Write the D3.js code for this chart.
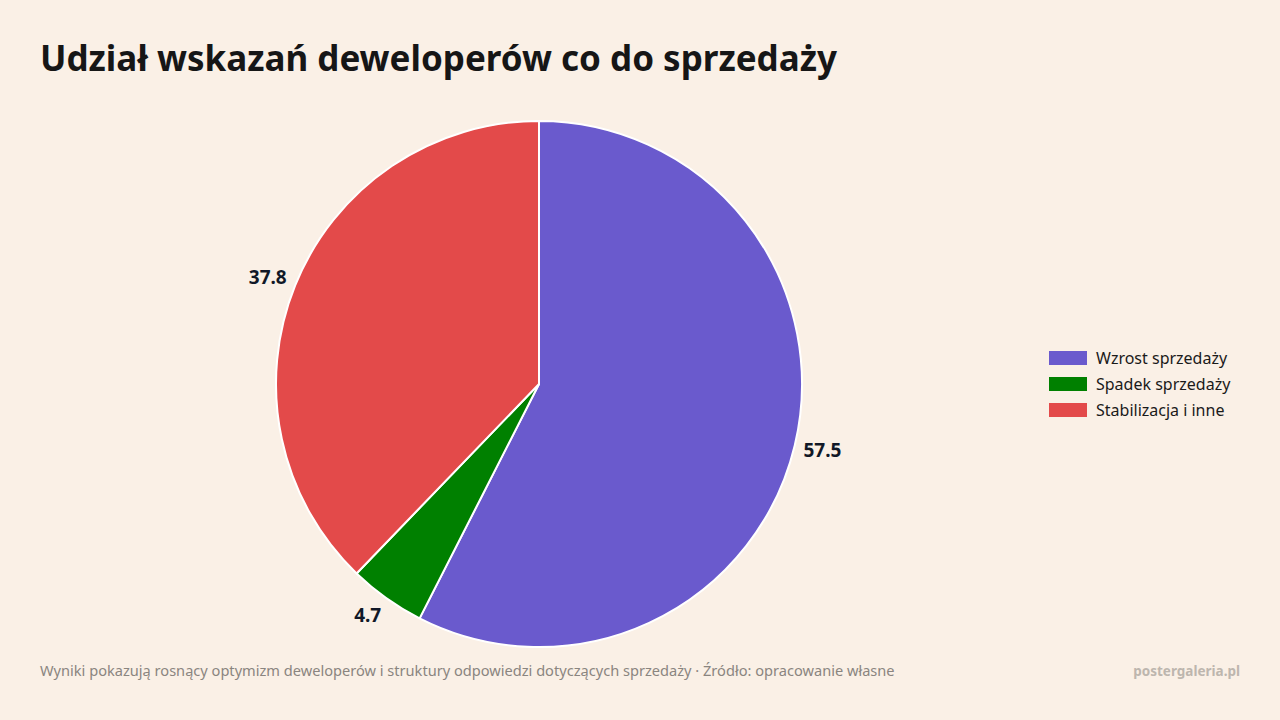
<!DOCTYPE html>
<html>
<head>
<meta charset="utf-8">
<script src="https://cdn.jsdelivr.net/npm/d3@7"></script>
<style>
  body { margin: 0; background: #faf0e6; }
  svg { display: block; font-family: "Noto Sans", "Open Sans", sans-serif; }
</style>
</head>
<body>
<svg id="chart" width="1280" height="720"></svg>
<script>
// data
const categories = ['Wzrost sprzedaży', 'Spadek sprzedaży', 'Stabilizacja i inne'];
const shares = [57.5, 4.7, 37.8];
const colors = ['#6a5acd', '#008000', '#e34a4a'];

const width = 1280,
  height = 720,
  cx = 539,
  cy = 384,
  radius = 263;

const svg = d3.select('#chart');

svg.append('rect')
  .attr('width', width)
  .attr('height', height)
  .attr('fill', '#faf0e6');

// title
svg.append('text')
  .attr('x', 40)
  .attr('y', 71)
  .attr('font-size', 35)
  .attr('font-weight', 700)
  .attr('fill', '#161616')
  .text('Udział wskazań deweloperów co do sprzedaży');

const data = categories.map((name, i) => ({ name, value: shares[i], color: colors[i] }));

const pie = d3.pie()
  .value(d => d.value)
  .sort(null);

const arc = d3.arc().innerRadius(0).outerRadius(radius);
const labelR = radius + 9;

const g = svg.append('g').attr('transform', `translate(${cx},${cy})`);

const arcs = pie(data);

g.selectAll('path')
  .data(arcs)
  .enter()
  .append('path')
  .attr('d', arc)
  .attr('fill', d => d.data.color)
  .attr('stroke', '#ffffff')
  .attr('stroke-width', 2)
  .attr('stroke-linejoin', 'round');

// value labels outside the slices, box pushed away from the rim
g.selectAll('text.val')
  .data(arcs)
  .enter()
  .append('text')
  .attr('class', 'val')
  .attr('transform', d => {
    const mid = (d.startAngle + d.endAngle) / 2;
    const x = Math.sin(mid) * labelR;
    const y = -Math.cos(mid) * labelR - Math.cos(mid) * 12;
    return `translate(${x},${y})`;
  })
  .attr('text-anchor', d => {
    const mid = (d.startAngle + d.endAngle) / 2;
    return mid < Math.PI ? 'start' : 'end';
  })
  .attr('dy', '0.35em')
  .attr('font-size', 19)
  .attr('font-weight', 700)
  .attr('fill', '#111827')
  .text(d => d.data.value.toFixed(1));

// legend
const legend = svg.append('g').attr('transform', 'translate(1049,351)');

const items = legend.selectAll('g')
  .data(data)
  .enter()
  .append('g')
  .attr('transform', (d, i) => `translate(0,${i * 26})`);

items.append('rect')
  .attr('width', 38)
  .attr('height', 14)
  .attr('fill', d => d.color);

items.append('text')
  .attr('x', 47)
  .attr('y', 7)
  .attr('dy', '0.35em')
  .attr('font-size', 16)
  .attr('fill', '#1a1a1a')
  .text(d => d.name);

// footer
svg.append('text')
  .attr('x', 40)
  .attr('y', 676)
  .attr('font-size', 14.6)
  .attr('fill', '#8a8580')
  .text('Wyniki pokazują rosnący optymizm deweloperów i struktury odpowiedzi dotyczących sprzedaży · Źródło: opracowanie własne');

svg.append('text')
  .attr('x', 1240)
  .attr('y', 676)
  .attr('text-anchor', 'end')
  .attr('font-size', 13.5)
  .attr('font-weight', 700)
  .attr('fill', '#bdb6ae')
  .text('postergaleria.pl');
</script>
</body>
</html>
